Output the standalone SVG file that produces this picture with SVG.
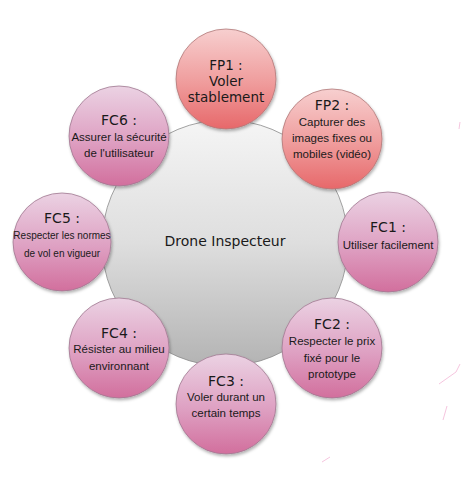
<svg xmlns="http://www.w3.org/2000/svg" width="476" height="498" viewBox="0 0 476 498">
  <defs>
    <linearGradient id="gCore" x1="0" y1="0" x2="0" y2="1">
      <stop offset="0" stop-color="#f5f5f5"/>
      <stop offset="0.5" stop-color="#dedede"/>
      <stop offset="1" stop-color="#b3b3b3"/>
    </linearGradient>
    <linearGradient id="gFP" x1="0" y1="0" x2="0" y2="1">
      <stop offset="0" stop-color="#f7cfcf"/>
      <stop offset="0.55" stop-color="#ef9b9b"/>
      <stop offset="1" stop-color="#e7686a"/>
    </linearGradient>
    <linearGradient id="gFC" x1="0" y1="0" x2="0" y2="1">
      <stop offset="0" stop-color="#ebd2e3"/>
      <stop offset="0.55" stop-color="#dea0c2"/>
      <stop offset="1" stop-color="#d26f9d"/>
    </linearGradient>
    <filter id="shadow" x="-20%" y="-20%" width="140%" height="140%">
      <feDropShadow dx="1" dy="2" stdDeviation="1.5" flood-color="#000" flood-opacity="0.3"/>
    </filter>
  </defs>
  <style>
    .core { fill: url(#gCore); stroke: #8a8a8a; stroke-width: 0.8; }
    .fp { fill: url(#gFP); stroke: #b07878; stroke-width: 0.8; filter: url(#shadow); }
    .fc { fill: url(#gFC); stroke: #a07890; stroke-width: 0.8; filter: url(#shadow); }
    text { text-anchor: middle; fill: #1a1a1a; }
    .ttl { font-family: "DejaVu Sans", Verdana, sans-serif; font-size: 14px; }
    .big { font-family: "DejaVu Sans", Verdana, sans-serif; font-size: 13.5px; }
    .body { font-family: "Liberation Sans", Arial, sans-serif; font-size: 11.5px; }
    .small { font-family: "Liberation Sans", Arial, sans-serif; font-size: 10px; }
    .mark { stroke: #f2b6d6; stroke-width: 0.8; fill: none; }
  </style>

  <!-- central subject -->
  <g id="core">
    <circle class="core" cx="225" cy="243" r="123"/>
    <text class="ttl" x="225" y="246">Drone Inspecteur</text>
  </g>

  <g id="connectors"/>

  <!-- principal functions -->
  <g id="fp1">
    <circle class="fp" cx="226" cy="79" r="50"/>
    <text class="big" x="226" y="70">FP1 :</text>
    <text class="big" x="226" y="86">Voler</text>
    <text class="big" x="226" y="102">stablement</text>
  </g>
  <g id="fp2">
    <circle class="fp" cx="332" cy="139" r="50"/>
    <text class="ttl" x="332" y="110">FP2 :</text>
    <text class="body" x="332" y="126">Capturer des</text>
    <text class="body" x="332" y="142">images fixes ou</text>
    <text class="body" x="332" y="158">mobiles (vidéo)</text>
  </g>

  <!-- constraint functions -->
  <g id="fc1">
    <circle class="fc" cx="388" cy="242" r="50"/>
    <text class="ttl" x="388" y="232">FC1 :</text>
    <text class="body" x="388" y="249">Utiliser facilement</text>
  </g>
  <g id="fc2">
    <circle class="fc" cx="332" cy="348" r="50"/>
    <text class="ttl" x="332" y="329">FC2 :</text>
    <text class="body" x="332" y="345">Respecter le prix</text>
    <text class="body" x="332" y="362">fixé pour le</text>
    <text class="body" x="332" y="378">prototype</text>
  </g>
  <g id="fc3">
    <circle class="fc" cx="226" cy="404" r="50"/>
    <text class="ttl" x="226" y="386">FC3 :</text>
    <text class="body" x="226" y="401">Voler durant un</text>
    <text class="body" x="226" y="417">certain temps</text>
  </g>
  <g id="fc4">
    <circle class="fc" cx="119" cy="348" r="50"/>
    <text class="ttl" x="119" y="338">FC4 :</text>
    <text class="body" x="119" y="353">Résister au milieu</text>
    <text class="body" x="119" y="370">environnant</text>
  </g>
  <g id="fc5">
    <circle class="fc" cx="62" cy="242" r="49"/>
    <text class="ttl" x="62" y="223">FC5 :</text>
    <text class="small" x="62" y="239">Respecter les normes</text>
    <text class="small" x="62" y="257">de vol en vigueur</text>
  </g>
  <g id="fc6">
    <circle class="fc" cx="119" cy="136" r="50"/>
    <text class="ttl" x="119" y="125">FC6 :</text>
    <text class="body" x="119" y="141">Assurer la sécurité</text>
    <text class="body" x="119" y="157">de l'utilisateur</text>
  </g>

  <!-- faint pink strokes at the right margin -->
  <path class="mark" d="M460 122 L459 129"/>
  <path class="mark" d="M439 384 L456 372 L460 364"/>
  <path class="mark" d="M443 420 L447 406"/>
  <path class="mark" d="M322 462 L330 457"/>
</svg>
